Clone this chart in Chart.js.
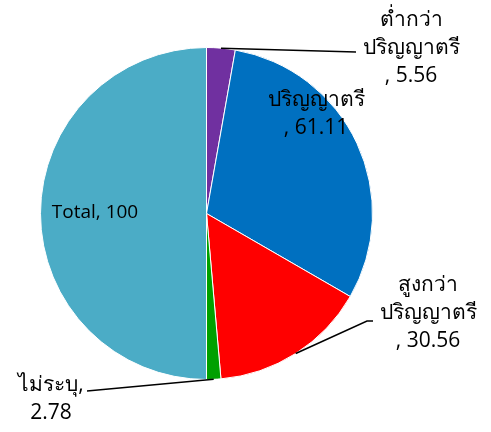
<!DOCTYPE html>
<html>
<head>
<meta charset="utf-8">
<script src="https://cdn.jsdelivr.net/npm/chart.js@4/dist/chart.umd.min.js"></script>
<style>
  html, body { margin: 0; padding: 0; background: #fff; }
  #wrap { width: 491px; height: 432px; }
</style>
</head>
<body>
<div id="wrap"><canvas id="c"></canvas></div>
<script>
const categories = ['ต่ำกว่าปริญญาตรี', 'ปริญญาตรี', 'สูงกว่าปริญญาตรี', 'ไม่ระบุ', 'Total'];
const values = [5.56, 61.11, 30.56, 2.78, 100];
const colors = ['#7030A0', '#0070C0', '#FF0000', '#00A000', '#4BACC6'];

// label text lines, split like the original
const labelLines = [
  ['ต่ำกว่า', 'ปริญญาตรี', ', 5.56'],
  ['ปริญญาตรี', ', 61.11'],
  ['สูงกว่า', 'ปริญญาตรี', ', 30.56'],
  ['ไม่ระบุ,', '2.78'],
  ['Total, 100']
];
// where each label sits; leader: [x,y] end of the line or null
const labelPlace = [
  {x: 411, y: 20, size: 21, leader: [356, 52]},
  {x: 316, y: 100, size: 21, leader: null},
  {x: 428, y: 285, size: 21, leader: [367, 321], tail: 373},
  {x: 51, y: 385, size: 21, leader: [87, 391]},
  {x: 95, y: 213, size: 19, leader: null}
];

const labelPlugin = {
  id: 'pieLabels',
  afterDatasetsDraw(chart) {
    const ctx = chart.ctx;
    const meta = chart.getDatasetMeta(0);
    ctx.save();
    meta.data.forEach((arc, i) => {
      const p = labelPlace[i];
      if (p.leader) {
        const mid = (arc.startAngle + arc.endAngle) / 2;
        const sx = arc.x + Math.cos(mid) * arc.outerRadius;
        const sy = arc.y + Math.sin(mid) * arc.outerRadius;
        ctx.beginPath();
        ctx.strokeStyle = '#000';
        ctx.lineWidth = 1.5;
        ctx.moveTo(sx, sy);
        ctx.lineTo(p.leader[0], p.leader[1]);
        if (p.tail) ctx.lineTo(p.tail, p.leader[1]);
        ctx.stroke();
      }
      ctx.fillStyle = '#000';
      ctx.font = p.size + 'px "Open Sans", "Noto Sans", "DejaVu Sans", sans-serif';
      ctx.textAlign = 'center';
      ctx.textBaseline = 'middle';
      labelLines[i].forEach((line, j) => {
        ctx.fillText(line, p.x, p.y + j * 28);
      });
    });
    ctx.restore();
  }
};

new Chart(document.getElementById('c'), {
  type: 'pie',
  data: {
    labels: categories,
    datasets: [{
      data: values,
      backgroundColor: colors,
      borderColor: '#ffffff',
      borderWidth: 1
    }]
  },
  options: {
    responsive: true,
    maintainAspectRatio: false,
    animation: false,
    layout: {padding: {left: 40, right: 118, top: 47, bottom: 52}},
    plugins: {
      legend: {display: false},
      tooltip: {enabled: false}
    }
  },
  plugins: [labelPlugin]
});
</script>
</body>
</html>
